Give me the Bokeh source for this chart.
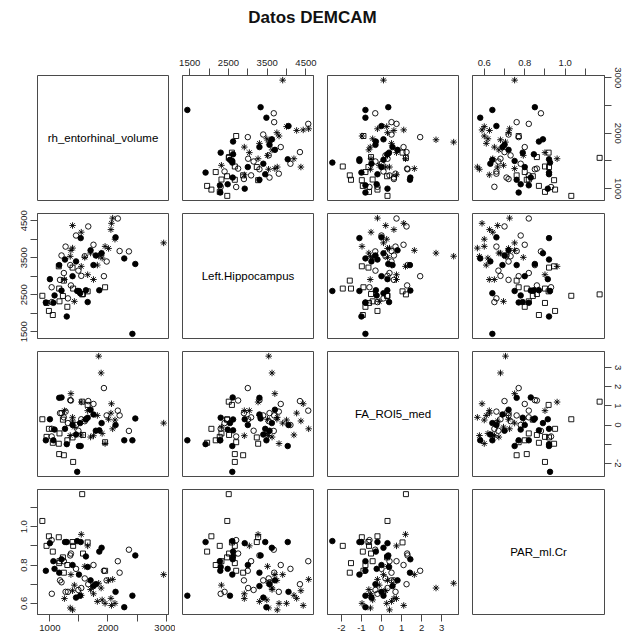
from bokeh.plotting import figure
from bokeh.layouts import gridplot, column
from bokeh.models import Div, FixedTicker, LinearAxis, Range1d
from bokeh.embed import file_html
from bokeh.resources import INLINE
from bokeh.core.properties import value

title_text = "Datos DEMCAM"
var_names = ["rh_entorhinal_volume", "Left.Hippocampus", "FA_ROI5_med", "PAR_ml.Cr"]

# group of each subject (point symbol)
group = (["asterisk"] * 23) + (["square"] * 16) + (["open"] * 20) + (["filled"] * 25)

rh_entorhinal_volume = [
    2958, 1840, 1882, 2080, 2120, 2050, 2060, 1540, 1390, 1421, 1362, 1540, 1390, 1350, 1900, 1950, 1700, 1650, 1600, 1250, 1750, 1817, 2010,
    1950, 1556, 870, 1400, 1160, 1240, 983, 1050, 942, 1165, 1390, 1153, 1570, 1300, 1224, 1650,
    2360, 2169, 1930, 1977, 1660, 1540, 1362, 1200, 1033, 1174, 1350, 1030, 1240, 1270, 2200, 1490, 1450, 1750, 1310, 1600,
    2420, 2470, 2280, 1850, 1890, 1530, 1620, 1500, 1390, 1290, 1060, 930, 1080, 1470, 1160, 1260, 1000, 2130, 1790, 1450, 1650, 1700, 1200, 1520, 1750,
]
left_hippocampus = [
    3900, 3540, 3625, 4570, 4000, 4260, 4430, 4190, 4370, 2319, 3698, 3265, 3760, 3536, 3490, 3806, 3626, 3040, 3509, 2910, 2910, 3300, 3750,
    2700, 2508, 2470, 2665, 2665, 2880, 2060, 1950, 2276, 2320, 3232, 3267, 2517, 2172, 2465, 2590,
    3670, 4560, 3000, 3397, 4345, 3009, 2750, 3560, 2300, 2900, 3300, 2700, 3085, 3800, 3680, 3150, 4100, 3850, 2400, 3540,
    1440, 3330, 3480, 2620, 3620, 4030, 2620, 2600, 3000, 1910, 2280, 2290, 2480, 2600, 3300, 3450, 2920, 4050, 3560, 3400, 2300, 3700, 2610, 2540, 3300,
]
fa_roi5_med = [
    0.10, 3.60, 2.72, -0.20, 0.26, 0.62, 1.11, -0.52, 0.21, -0.11, 1.64, 1.20, 0.40, -0.55, -0.44, -0.97, -0.63, 0.75, 0.30, 0.75, -0.56, 0.50, 0.30,
    -0.90, 1.22, 0.30, -1.93, -1.52, -1.58, -0.20, -0.93, -0.62, -0.44, -0.65, -0.98, -0.52, -0.80, 0.28, 1.05,
    -0.31, 0.75, 1.93, 0.50, 1.25, 0.30, 1.28, 0.62, -0.20, 0.62, 1.30, -0.60, 0.40, 0.70, 0.50, -0.30, 0.00, 1.10, 0.10, 0.20,
    -0.80, 0.34, -0.80, -0.28, 0.10, -1.10, 0.29, -1.10, 0.00, -1.00, -0.80, -0.80, -0.24, -2.45, 1.42, -0.20, 0.30, 0.00, -0.30, -0.50, 0.38, 0.80, 1.44, 0.10, 0.55,
]
par_ml_cr = [
    0.750, 0.705, 0.680, 0.725, 0.600, 0.626, 0.589, 0.642, 0.666, 0.695, 0.750, 0.960, 0.566, 0.576, 0.618, 0.600, 0.672, 0.900, 0.793, 0.625, 0.650, 0.610, 0.720,
    0.770, 1.170, 1.030, 0.900, 0.810, 0.760, 0.950, 0.870, 0.900, 0.820, 0.920, 0.945, 0.860, 0.800, 0.840, 0.918,
    0.880, 0.820, 0.770, 0.720, 0.700, 0.680, 0.860, 0.710, 0.650, 0.720, 0.850, 0.930, 0.820, 0.660, 0.760, 0.670, 0.780, 0.800, 0.660, 0.730,
    0.640, 0.850, 0.580, 0.870, 0.890, 0.920, 0.845, 0.750, 0.800, 0.920, 0.820, 0.770, 0.780, 0.925, 0.760, 0.920, 0.914, 0.660, 0.700, 0.630, 0.790, 0.720, 0.830, 0.640, 0.690,
]

tick_values = [
    [1000, 1500, 2000, 2500, 3000],
    [1500, 2000, 2500, 3000, 3500, 4000, 4500],
    [-2, -1, 0, 1, 2, 3],
    [0.6, 0.7, 0.8, 0.9, 1.0, 1.1],
]
tick_text = [
    ["1000", "1500", "2000", "2500", "3000"],
    ["1500", "2000", "2500", "3000", "3500", "4000", "4500"],
    ["-2", "-1", "0", "1", "2", "3"],
    ["0.6", "0.7", "0.8", "0.9", "1.0", "1.1"],
]
shown_labels = {
    ("above", 1): ["1500", "2500", "3500", "4500"],
    ("above", 3): ["0.6", "0.8", "1.0"],
    ("below", 0): ["1000", "2000", "3000"],
    ("below", 2): ["-2", "-1", "0", "1", "2", "3"],
    ("left", 1): ["1500", "2500", "3500", "4500"],
    ("left", 3): ["0.6", "0.8", "1.0"],
    ("right", 0): ["1000", "2000", "3000"],
    ("right", 2): ["-2", "0", "1", "2", "3"],
}

data = [rh_entorhinal_volume, left_hippocampus, fa_roi5_med, par_ml_cr]
styles = {
    "filled": dict(marker="circle", size=5.5, fill_color="black", line_color="black"),
    "open": dict(marker="circle", size=5.5, fill_color=None, line_color="black"),
    "square": dict(marker="square", size=5, fill_color=None, line_color="black"),
    "asterisk": dict(marker="asterisk", size=6.5, line_color="black"),
}
FONT = "Liberation Sans"
BOX = "#4a4a4a"

def padded_range(vals):
    lo, hi = min(vals), max(vals)
    d = (hi - lo) * 0.04
    return lo - d, hi + d

ranges = [padded_range(v) for v in data]

col_w = [175, 145, 145, 160]
col_lb = [37, 7, 7, 7]
col_rb = [7, 7, 7, 21]
row_h = [162, 138, 138, 161]
row_tb = [31, 7, 7, 7]
row_bb = [6, 6, 6, 29]

def make_axis(side, k):
    ax = LinearAxis(ticker=FixedTicker(ticks=tick_values[k], minor_ticks=[]))
    shown = shown_labels[(side, k)]
    ax.major_label_overrides = {t: (s if s in shown else "") for t, s in zip(tick_values[k], tick_text[k])}
    ax.axis_line_color = BOX
    ax.major_tick_line_color = BOX
    ax.major_tick_out = 7
    ax.major_tick_in = 0
    ax.major_label_standoff = 3
    ax.major_label_text_font = FONT
    ax.major_label_text_font_size = "9.5px"
    ax.major_label_text_color = "#222222"
    if side in ("left", "right"):
        ax.major_label_orientation = "vertical"
    return ax

rows = []
for i in range(4):
    row = []
    for j in range(4):
        xr = ranges[j]
        yr = ranges[i]
        p = figure(width=col_w[j], height=row_h[i], output_backend="svg", toolbar_location=None,
                   x_range=Range1d(*xr), y_range=Range1d(*yr),
                   x_axis_location=None, y_axis_location=None,
                   min_border_left=col_lb[j], min_border_right=col_rb[j],
                   min_border_top=row_tb[i], min_border_bottom=row_bb[i],
                   tools="")
        p.xgrid.visible = False
        p.ygrid.visible = False
        p.outline_line_color = BOX
        p.outline_line_width = 1
        p.outline_line_alpha = 1
        p.background_fill_color = "white"
        p.border_fill_color = "white"
        if i == j:
            p.text(x=[(xr[0] + xr[1]) / 2], y=[(yr[0] + yr[1]) / 2], text=[var_names[i]],
                   text_align="center", text_baseline="middle",
                   text_font=value(FONT), text_font_size="11.5px", text_color="black")
        else:
            for g, st in styles.items():
                idx = [n for n, gg in enumerate(group) if gg == g]
                p.scatter(x=[data[j][n] for n in idx], y=[data[i][n] for n in idx], line_width=0.9, **st)
        if i == 0 and j in (1, 3):
            p.add_layout(make_axis("above", j), "above")
        if i == 3 and j in (0, 2):
            p.add_layout(make_axis("below", j), "below")
        if j == 0 and i in (1, 3):
            p.add_layout(make_axis("left", i), "left")
        if j == 3 and i in (0, 2):
            p.add_layout(make_axis("right", i), "right")
        row.append(p)
    rows.append(row)

grid = gridplot(rows, toolbar_location=None)
title = Div(text=f"<div style=\"width:625px;text-align:center;font-family:'{FONT}';font-weight:bold;font-size:17px;line-height:20px;padding-top:8px;color:#111;\">{title_text}</div>",
            width=625, height=44, margin=(0, 0, 0, 0))
layout = column(title, grid, spacing=0)

html = file_html(layout, INLINE, title_text)
html = html.replace("<head>", "<head><style>html,body{overflow:hidden;margin:0;padding:0;}</style>", 1)
open("out.html", "w").write(html)
